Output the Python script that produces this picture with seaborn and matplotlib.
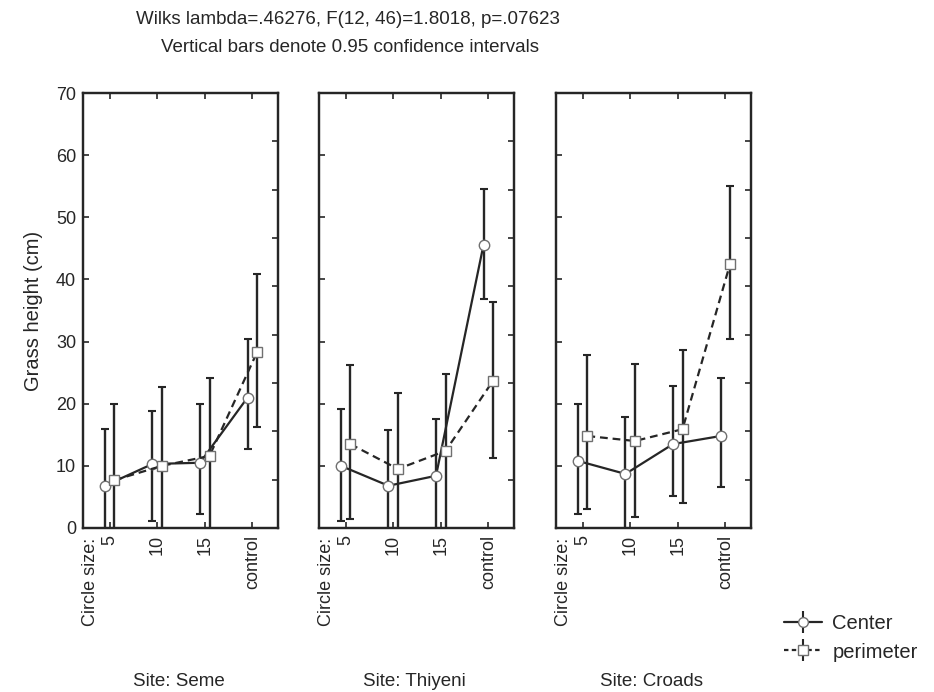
import numpy as np
import pandas as pd
import matplotlib
matplotlib.use("Agg")
import matplotlib.pyplot as plt
import matplotlib.transforms as mtransforms
from matplotlib.lines import Line2D
import seaborn as sns

# ---------------- data ----------------
sites = ["Seme", "Thiyeni", "Croads"]
sizes = ["5", "10", "15", "control"]
groups = ["Center", "perimeter"]

center_mean = {"Seme": [6.8, 10.3, 10.5, 21.0],
               "Thiyeni": [10.0, 6.8, 8.4, 45.6],
               "Croads": [10.8, 8.7, 13.5, 14.8]}
center_lo = {"Seme": [-2.0, 1.1, 2.2, 12.7],
             "Thiyeni": [1.1, -2.0, -1.0, 36.9],
             "Croads": [2.3, -0.5, 5.2, 6.6]}
center_hi = {"Seme": [15.9, 18.9, 19.9, 30.4],
             "Thiyeni": [19.1, 15.8, 17.5, 54.6],
             "Croads": [20.0, 17.8, 22.9, 24.2]}
perim_mean = {"Seme": [7.7, 10.0, 11.6, 28.3],
              "Thiyeni": [13.5, 9.5, 12.4, 23.7],
              "Croads": [14.8, 14.0, 15.9, 42.5]}
perim_lo = {"Seme": [-4.0, -2.0, -1.0, 16.2],
            "Thiyeni": [1.4, -1.0, -1.0, 11.3],
            "Croads": [3.0, 1.7, 4.1, 30.4]}
perim_hi = {"Seme": [19.9, 22.7, 24.2, 40.9],
            "Thiyeni": [26.3, 21.7, 24.8, 36.3],
            "Croads": [27.9, 26.4, 28.7, 55.0]}

title_lines = ["Wilks lambda=.46276, F(12, 46)=1.8018, p=.07623",
               "Vertical bars denote 0.95 confidence intervals"]
y_label = "Grass height (cm)"
y_ticks = [0, 10, 20, 30, 40, 50, 60, 70]

# ---------------- style ----------------
sns.set_theme(style="white")
plt.rcParams["font.family"] = ["Liberation Sans", "DejaVu Sans"]
ink = "#262626"
plt.rcParams["text.color"] = ink
plt.rcParams["axes.labelcolor"] = ink
plt.rcParams["xtick.color"] = ink
plt.rcParams["ytick.color"] = ink

W, H = 934, 692
fig = plt.figure(figsize=(W / 100, H / 100), dpi=100)
fig.patch.set_facecolor("white")

ax_left = [83, 319, 556]
ax_w = 195
ax_top, ax_bot = 93, 528

offsets = {"Center": -0.1, "perimeter": 0.1}
markers = {"Center": "o", "perimeter": "s"}
dashes = {"Center": "", "perimeter": (3.5, 2.2)}
means = {"Center": center_mean, "perimeter": perim_mean}
los = {"Center": center_lo, "perimeter": perim_lo}
his = {"Center": center_hi, "perimeter": perim_hi}

tick_fs = 13
for k, site in enumerate(sites):
    ax = fig.add_axes([ax_left[k] / W, 1 - ax_bot / H, ax_w / W, (ax_bot - ax_top) / H])
    rows = []
    for g in groups:
        for i, s in enumerate(sizes):
            rows.append({"x": i + offsets[g], "y": means[g][site][i], "group": g,
                         "lo": los[g][site][i], "hi": his[g][site][i]})
    df = pd.DataFrame(rows)

    # error bars
    for g in groups:
        d = df[df.group == g]
        ax.errorbar(d["x"], d["y"], yerr=[d["y"] - d["lo"], d["hi"] - d["y"]],
                    fmt="none", ecolor=ink, elinewidth=1.7, capsize=2.6,
                    capthick=1.5, zorder=2)

    sns.lineplot(data=df, x="x", y="y", hue="group", style="group",
                 hue_order=groups, style_order=groups,
                 palette={"Center": ink, "perimeter": ink},
                 markers=markers, dashes=dashes, sort=False, estimator=None,
                 linewidth=1.6, markersize=7.5, markerfacecolor="white",
                 markeredgecolor="#707070", markeredgewidth=1.0,
                 legend=False, ax=ax, zorder=3)

    ax.set_xlim(-0.56, 3.54)
    ax.set_ylim(0, 70)
    ax.set_xticks(range(len(sizes)))
    ax.set_xticklabels(sizes, rotation=90, fontsize=tick_fs)
    ax.set_yticks(y_ticks)
    ax.set_xlabel("")
    ax.set_ylabel("")
    ax.tick_params(axis="both", direction="in", length=4, width=1.2,
                   top=True, bottom=True, left=True, right=False, pad=5)
    if k == 0:
        ax.set_yticklabels([str(t) for t in y_ticks], fontsize=tick_fs)
        ax.set_ylabel(y_label, fontsize=14.5, labelpad=9)
    else:
        ax.set_yticklabels([])
    # right-hand ticks (9 equal divisions)
    axr = ax.twinx()
    axr.set_ylim(0, 70)
    axr.set_yticks([70 / 9 * j for j in range(1, 9)])
    axr.set_yticklabels([])
    axr.tick_params(axis="y", direction="in", length=4, width=1.2, right=True)
    axr.grid(False)
    for a in (ax, axr):
        for sp in a.spines.values():
            sp.set_color(ink)
            sp.set_linewidth(1.6)
    ax.grid(False)

    trans = mtransforms.blended_transform_factory(ax.transData, ax.transAxes)
    ax.text(-0.40, -0.022, "Circle size:", transform=trans, rotation=90,
            ha="center", va="top", fontsize=tick_fs)

    fig.text((ax_left[k] + ax_w / 2 - 2) / W, 1 - 681 / H, f"Site: {site}",
             ha="center", va="center", fontsize=13.5)

fig.text(348 / W, 1 - 20 / H, title_lines[0], ha="center", va="center", fontsize=13.5)
fig.text(350 / W, 1 - 47 / H, title_lines[1], ha="center", va="center", fontsize=13.5)

# legend
handles = []
for g in groups:
    bar = Line2D([], [], color=ink, marker="|", markersize=16, linestyle="none",
                 markeredgewidth=1.5)
    ln = Line2D([], [], color=ink, linewidth=1.6,
                linestyle="-" if g == "Center" else (0, (2, 1.5)),
                marker=markers[g], markersize=7, markerfacecolor="white",
                markeredgecolor="#707070")
    handles.append((bar, ln))
leg = fig.legend(handles, groups, loc="center left",
                 bbox_to_anchor=(770 / W, 1 - 638 / H), frameon=False,
                 fontsize=14.5, handlelength=1.9, handletextpad=0.5,
                 labelspacing=0.45, borderpad=0.2)

fig.savefig("out.png", dpi=100, facecolor="white")
